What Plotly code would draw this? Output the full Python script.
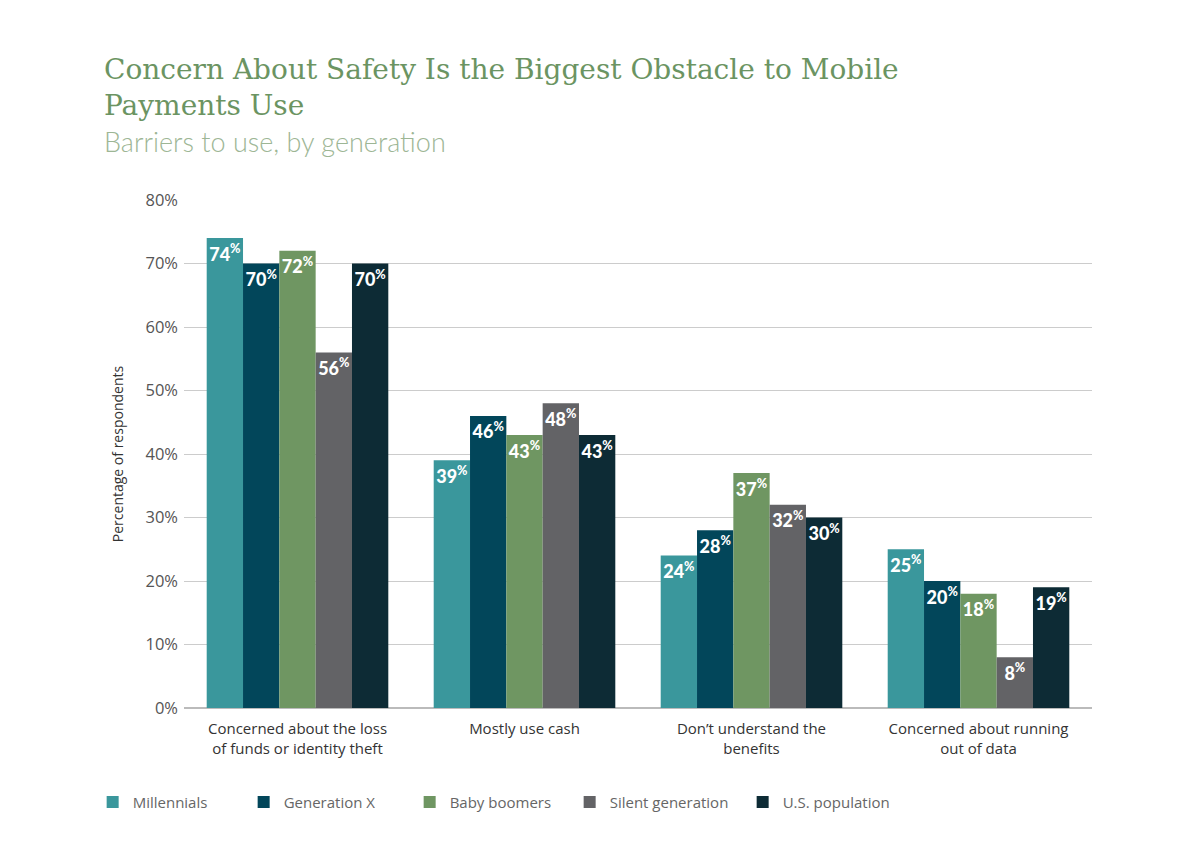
import plotly.graph_objects as go

categories = ["Concerned about the loss<br>of funds or identity theft", "Mostly use cash",
              "Don’t understand the<br>benefits", "Concerned about running<br>out of data"]
series_names = ["Millennials", "Generation X", "Baby boomers", "Silent generation", "U.S. population"]
millennials = [74, 39, 24, 25]
generation_x = [70, 46, 28, 20]
baby_boomers = [72, 43, 37, 18]
silent_generation = [56, 48, 32, 8]
us_population = [70, 43, 30, 19]
series_values = [millennials, generation_x, baby_boomers, silent_generation, us_population]
colors = ["#3A979C", "#02465A", "#6F9662", "#636366", "#0D2B35"]
legend_widths = [106, 121, 115, 128, 120]
y_ticks = [0, 10, 20, 30, 40, 50, 60, 70, 80]

fig = go.Figure()
for name, vals, col, lw in zip(series_names, series_values, colors, legend_widths):
    fig.add_trace(go.Bar(
        name=name, x=categories, y=vals,
        marker=dict(color=col, line=dict(width=0)),
        text=[f"{v}<sup>%</sup>" for v in vals],
        textposition="inside", insidetextanchor="end", constraintext="none",
        textfont=dict(family="Lato", size=18, color="white", weight=900),
        textangle=0, legendwidth=lw,
    ))

fig.update_layout(
    width=1200, height=851,
    barmode="group", bargap=0.2, bargroupgap=0,
    paper_bgcolor="white", plot_bgcolor="white",
    margin=dict(l=176, r=116, t=192, b=151, autoexpand=False),
    font=dict(family="Open Sans", color="#333333"),
    yaxis=dict(range=[0, 80], tickvals=y_ticks, ticktext=[f"{t}%" for t in y_ticks],
               showgrid=True, gridcolor="#CCCCCC", gridwidth=1, zeroline=True,
               zerolinecolor="#BBBBBB", tickfont=dict(family="Open Sans", size=16.5, color="#555555"),
               ticks="", ticklabelstandoff=5, automargin=False,
               title=dict(text="Percentage of respondents",
                          font=dict(family="Open Sans", size=14, color="#333333"),
                          standoff=18)),
    xaxis=dict(tickfont=dict(family="Open Sans", size=15, color="#333333"), ticks="",
               showline=False, automargin=False, ticklabelstandoff=10),
    legend=dict(orientation="h", x=-0.1006, xanchor="left", y=-0.153, yanchor="top",
                font=dict(family="Open Sans", size=15, color="#666666"),
                itemwidth=30, traceorder="normal"),
    showlegend=True,
)
fig.add_annotation(text="Concern About Safety Is the Biggest Obstacle to Mobile<br>Payments Use",
                   xref="paper", yref="paper", x=-0.09, y=1.0, yanchor="bottom", xanchor="left",
                   yshift=76, align="left", showarrow=False,
                   font=dict(family="DejaVu Serif", size=28, color="#6B9462"))
fig.add_annotation(text="Barriers to use, by generation",
                   xref="paper", yref="paper", x=-0.09, y=1.0, yanchor="bottom", xanchor="left",
                   yshift=40, align="left", showarrow=False,
                   font=dict(family="Lato", size=27, color="#9DB695", weight=300))

fig.write_html("out.html")
